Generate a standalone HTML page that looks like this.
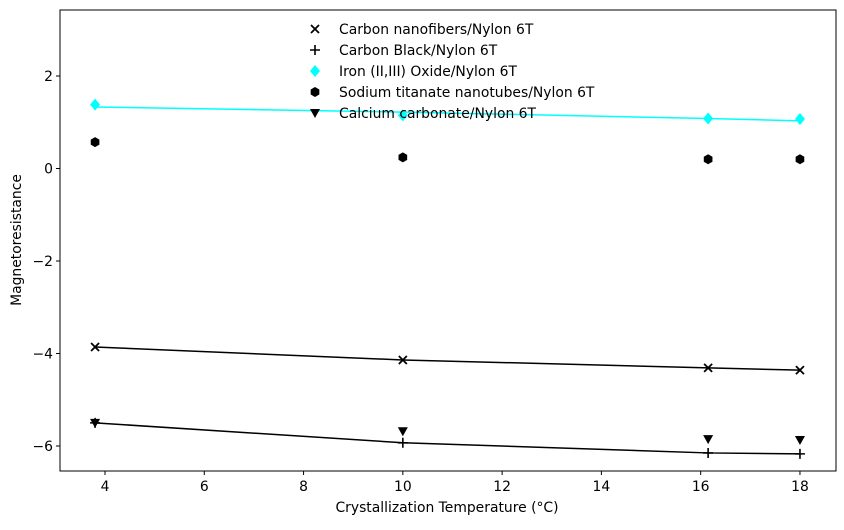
<!DOCTYPE html>
<html><head><meta charset="utf-8"><style>
body{margin:0;background:#fff}
svg text{font-family:"DejaVu Sans","Liberation Sans",sans-serif;font-size:13.9px;fill:#000}
</style></head><body>
<svg id="chart" width="844" height="525" xmlns="http://www.w3.org/2000/svg">
<rect x="60" y="10" width="776" height="461" fill="none" stroke="#000" stroke-width="1"/>
<g id="ticks"></g><g id="marks"></g><g id="legend"></g>
<text x="447" y="512" text-anchor="middle">Crystallization Temperature (°C)</text>
<text transform="translate(21,240) rotate(-90)" text-anchor="middle">Magnetoresistance</text>
</svg>
<script>
const xs=[3.8,10,16.15,18];
const nanofibers=[-3.86,-4.14,-4.31,-4.36];
const carbonBlack=[-5.50,-5.93,-6.15,-6.17];
const ironOxide=[1.38,1.15,1.08,1.07];
const ironFit=[1.33,1.22,1.08,1.03];
const sodium=[0.57,0.24,0.2,0.2];
const calcium=[-5.5,-5.68,-5.85,-5.87];
const xTicks=[4,6,8,10,12,14,16,18];
const yTicks=[2,0,-2,-4,-6];
const legendLabels=["Carbon nanofibers/Nylon 6T","Carbon Black/Nylon 6T","Iron (II,III) Oxide/Nylon 6T","Sodium titanate nanotubes/Nylon 6T","Calcium carbonate/Nylon 6T"];
const X=v=>105+(v-4)*49.64, Y=v=>168.5-v*46.25;
const NS="http://www.w3.org/2000/svg";
function mk(t,a,p){const e=document.createElementNS(NS,t);for(const k in a)e.setAttribute(k,a[k]);p.appendChild(e);return e;}
const tk=document.getElementById('ticks'),mg=document.getElementById('marks'),lg=document.getElementById('legend');
xTicks.forEach(v=>{const l=mk('line',{x1:X(v),x2:X(v),y1:471,y2:475,stroke:'#000'},tk);


const t=mk('text',{x:X(v),y:491,'text-anchor':'middle'},tk);t.textContent=v;

});
yTicks.forEach(v=>{const l=mk('line',{x1:56,x2:60,y1:Y(v),y2:Y(v),stroke:'#000'},tk);


const t=mk('text',{x:53,y:Y(v)+5,'text-anchor':'end'},tk);t.textContent=(v<0?'\u2212'+(-v):v);

});
function line(arr,col,name){const p=mk('polyline',{points:xs.map((x,i)=>X(x)+','+Y(arr[i])).join(' '),fill:'none',stroke:col,'stroke-width':1.5},mg);

}
line(ironFit,'#00ffff','iron-oxide-fit-line');line(nanofibers,'#000','nanofibers-line');line(carbonBlack,'#000','carbon-black-line');
function marker(type,cx,cy,g){
 if(type==='x'){mk('path',{d:`M${cx-4},${cy-4}L${cx+4},${cy+4}M${cx-4},${cy+4}L${cx+4},${cy-4}`,stroke:'#000','stroke-width':1.8},g);}
 else if(type==='+'){mk('path',{d:`M${cx-5},${cy}L${cx+5},${cy}M${cx},${cy-5}L${cx},${cy+5}`,stroke:'#000','stroke-width':1.6},g);}
 else if(type==='d'){mk('path',{d:`M${cx},${cy-6}L${cx+5},${cy}L${cx},${cy+6}L${cx-5},${cy}Z`,fill:'#00ffff'},g);}
 else if(type==='h'){let d='';for(let i=0;i<6;i++){const a=Math.PI/3*i+Math.PI/6;d+=(i?'L':'M')+(cx+5*Math.cos(a))+','+(cy+5*Math.sin(a));}mk('path',{d:d+'Z',fill:'#000'},g);}
 else {mk('path',{d:`M${cx-5},${cy-4}L${cx+5},${cy-4}L${cx},${cy+5}Z`,fill:'#000'},g);}
}
const series=[['x',nanofibers,'nanofibers'],['+',carbonBlack,'carbon-black'],['d',ironOxide,'iron-oxide'],['h',sodium,'sodium-titanate'],['v',calcium,'calcium-carbonate']];
series.forEach(([t,arr,n])=>{arr.forEach((v,i)=>{const g=mk('g',{},mg);


marker(t,X(xs[i]),Y(v),g);});});
legendLabels.forEach((s,i)=>{const g=mk('g',{},lg);


const y=29+i*21;marker(series[i][0],315,y,g);const t=mk('text',{x:339,y:y+5},g);t.textContent=s;});
</script>
</body></html>
